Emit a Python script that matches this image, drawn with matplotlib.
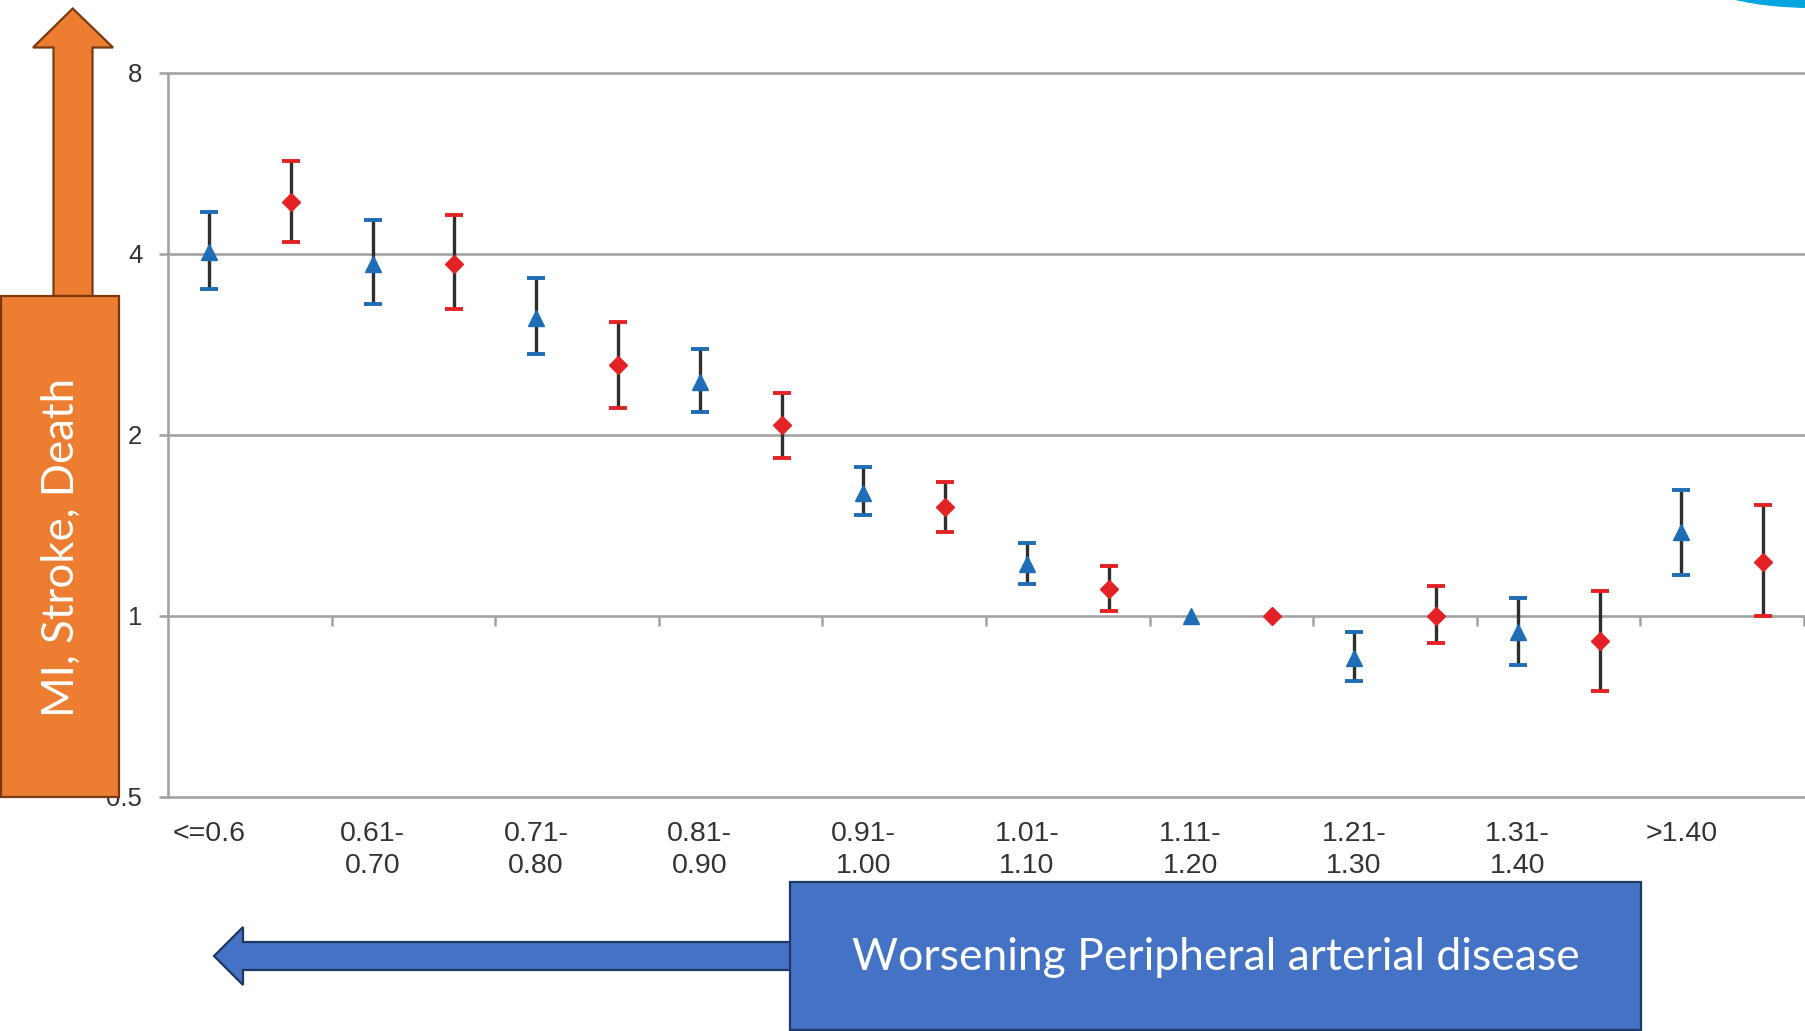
import numpy as np
import matplotlib.pyplot as plt
from matplotlib.patches import Polygon, Rectangle, Ellipse
from matplotlib.ticker import NullLocator

plt.rcParams['font.family'] = ['Liberation Sans', 'DejaVu Sans']

# ABI カテゴリ
categories = ['<=0.6', '0.61-\n0.70', '0.71-\n0.80', '0.81-\n0.90', '0.91-\n1.00',
              '1.01-\n1.10', '1.11-\n1.20', '1.21-\n1.30', '1.31-\n1.40', '>1.40']

# 青（三角）系列: ハザード比と信頼区間
blue_hr = [4.02, 3.85, 3.13, 2.45, 1.60, 1.22, 1.00, 0.85, 0.94, 1.38]
blue_lo = [3.50, 3.30, 2.73, 2.18, 1.47, 1.13, 1.00, 0.78, 0.83, 1.17]
blue_hi = [4.69, 4.55, 3.65, 2.78, 1.77, 1.32, 1.00, 0.94, 1.07, 1.62]

# 赤（ひし形）系列
red_hr = [4.88, 3.85, 2.61, 2.08, 1.52, 1.11, 1.00, 1.00, 0.91, 1.23]
red_lo = [4.18, 3.24, 2.22, 1.83, 1.38, 1.02, 1.00, 0.90, 0.75, 1.00]
red_hi = [5.70, 4.63, 3.08, 2.35, 1.67, 1.21, 1.00, 1.12, 1.10, 1.53]

y_levels = [0.5, 1, 2, 4, 8]
y_labels = ['0.5', '1', '2', '4', '8']

blue_c = '#1f6db6'
red_c = '#e32226'
stem_c = '#2e2e2e'
grid_c = '#a3a3a3'

W, H = 1806, 1031
fig = plt.figure(figsize=(W / 100, H / 100), dpi=100, facecolor='white')
ax = fig.add_axes([168 / W, 1 - 797 / H, (1804 - 168) / W, (797 - 72.6) / H])

ax.set_yscale('log', base=2)
ax.set_ylim(0.5, 8)
ax.set_xlim(0, len(categories))
ax.yaxis.set_minor_locator(NullLocator())
ax.set_yticks(y_levels)
ax.set_yticklabels(y_labels)

# 横のグリッド線
for lv in y_levels:
    ax.axhline(lv, color=grid_c, lw=1.9, zorder=1, clip_on=False)

for s in ['top', 'right', 'bottom']:
    ax.spines[s].set_visible(False)
ax.spines['left'].set_color(grid_c)
ax.spines['left'].set_linewidth(1.9)

# y=1 上のカテゴリ境界の目盛り
bounds = np.arange(1, len(categories) + 1)
ax.plot(bounds, np.ones(len(bounds)), ls='none', marker=3, ms=7, mew=1.8,
        color=grid_c, clip_on=False, zorder=1)

ax.tick_params(axis='y', direction='out', length=6.5, width=1.9, color=grid_c,
               labelsize=18.5, labelcolor='#333333', pad=12)
ax.set_xticks(np.arange(len(categories)) + 0.25)
ax.set_xticklabels(categories, linespacing=1.32)
ax.tick_params(axis='x', length=0, labelsize=20.5, labelcolor='#333333', pad=17)


def draw_series(xs, hr, lo, hi, color, marker, ms):
    for x, h, l, u in zip(xs, hr, lo, hi):
        if u > l:
            ax.vlines(x, l, u, color=stem_c, lw=2.4, zorder=3)
            ax.plot([x, x], [l, u], ls='none', marker='_', ms=13, mew=2.8,
                    color=color, zorder=4)
    ax.plot(xs, hr, ls='none', marker=marker, ms=ms, color=color, zorder=5)


x_pos = np.arange(len(categories))
draw_series(x_pos + 0.25, blue_hr, blue_lo, blue_hi, blue_c, '^', 12)
draw_series(x_pos + 0.75, red_hr, red_lo, red_hi, red_c, 'D', 9)

# 矢印とラベル用のオーバーレイ（ピクセル座標）
ov = fig.add_axes([0, 0, 1, 1], zorder=10)
ov.set_xlim(0, W)
ov.set_ylim(H, 0)
ov.axis('off')
ov.patch.set_alpha(0)

orange = '#ed7d31'
brown = '#7a3a10'
ov.add_patch(Polygon([(72.7, 8.5), (113, 47.5), (92.5, 47.5), (92.5, 296),
                      (53.5, 296), (53.5, 47.5), (33, 47.5)],
                     closed=True, fc=orange, ec=brown, lw=1.6))
ov.add_patch(Rectangle((1, 296), 118, 501, fc=orange, ec=brown, lw=1.6))
ov.text(61, 547, 'MI, Stroke, Death', rotation=90, color='white',
        fontsize=31.5, family=['Lato', 'DejaVu Sans'], ha='center', va='center')

blue_box = '#4472c4'
navy = '#1f3864'
ov.add_patch(Polygon([(214, 956), (243, 927), (243, 942), (800, 942),
                      (800, 970), (243, 970), (243, 985)],
                     closed=True, fc=blue_box, ec=navy, lw=1.6))
ov.add_patch(Rectangle((790, 882), 851, 148, fc=blue_box, ec=navy, lw=1.6))
ov.text(1216, 957, 'Worsening Peripheral arterial disease', color='white',
        fontsize=32, family=['Lato', 'DejaVu Sans'], ha='center', va='center')

# 右上の装飾
ov.add_patch(Ellipse((1812, -30), 250, 76, fc='#00a6e0', ec='none'))

fig.savefig('out.png', dpi=100)
